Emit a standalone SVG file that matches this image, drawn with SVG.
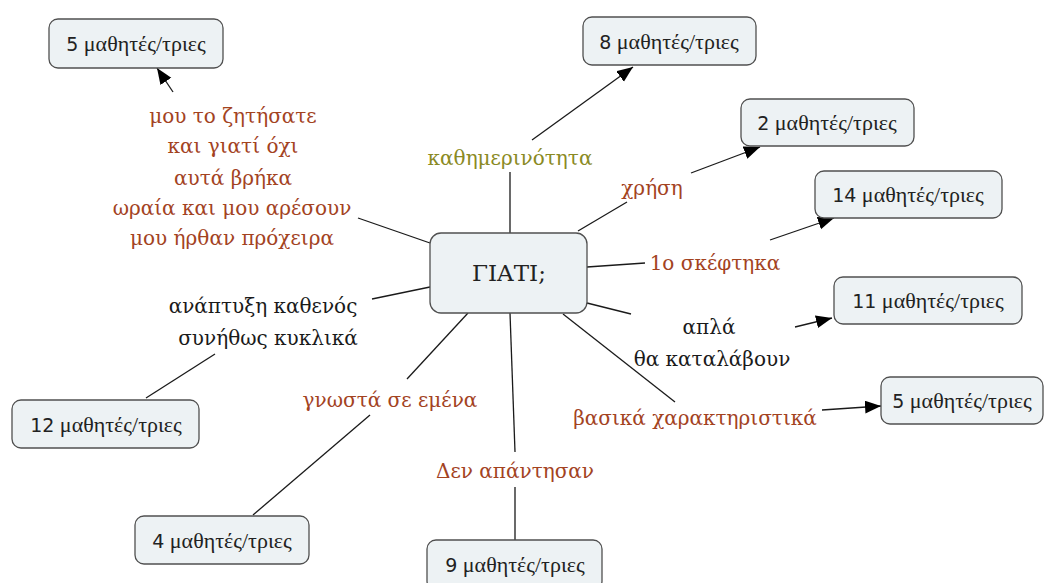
<svg xmlns="http://www.w3.org/2000/svg" width="1045" height="583" viewBox="0 0 1045 583">
  <style>
    .box { fill: #edf2f4; stroke: #505050; stroke-width: 1.3; }
    .lnk { stroke: #1a1a1a; stroke-width: 1.3; fill: none; }
    .arr { marker-end: url(#head); }
    .lbl { font-family: "DejaVu Serif", "Liberation Serif", serif; font-size: 20px; text-anchor: middle; }
    .rust { fill: #a3431f; }
    .olive { fill: #8a8a24; }
    .dark { fill: #1a1a1a; }
    .cnt { font-family: "Liberation Serif", "DejaVu Serif", serif; font-size: 22px; fill: #222; text-anchor: middle; }
    .num { font-family: "DejaVu Sans", sans-serif; font-size: 19px; }
    .root { font-family: "DejaVu Serif", "Liberation Serif", serif; font-size: 23px; fill: #222; text-anchor: middle; }
  </style>
  <defs>
    <marker id="head" markerUnits="userSpaceOnUse" markerWidth="18" markerHeight="14" refX="16" refY="6.5" orient="auto">
      <path d="M0,0 L16,6.5 L0,13 z" fill="#000"/>
    </marker>
  </defs>
  <rect width="1045" height="583" fill="#ffffff"/>

  <!-- connectors -->
  <g id="connectors">
    <!-- hub to link phrases -->
    <line class="lnk" x1="510" y1="233" x2="510" y2="172"/>
    <line class="lnk" x1="578" y1="231" x2="627" y2="202"/>
    <line class="lnk" x1="587" y1="267" x2="645" y2="263"/>
    <line class="lnk" x1="587" y1="303" x2="631" y2="314"/>
    <line class="lnk" x1="563" y1="314" x2="675" y2="402"/>
    <line class="lnk" x1="510" y1="313" x2="515" y2="452"/>
    <line class="lnk" x1="468" y1="313" x2="407" y2="379"/>
    <line class="lnk" x1="430" y1="287" x2="372" y2="299"/>
    <line class="lnk" x1="430" y1="243" x2="358" y2="218"/>
    <!-- link phrases to answer counts -->
    <line class="lnk arr" x1="532" y1="140" x2="633" y2="67"/>
    <line class="lnk arr" x1="691" y1="173" x2="760" y2="147"/>
    <line class="lnk arr" x1="770" y1="240" x2="834" y2="218"/>
    <line class="lnk arr" x1="795" y1="327" x2="832" y2="318"/>
    <line class="lnk arr" x1="822" y1="410" x2="881" y2="406"/>
    <line class="lnk" x1="515" y1="487" x2="515" y2="540"/>
    <line class="lnk" x1="370" y1="415" x2="253" y2="515"/>
    <line class="lnk" x1="215" y1="354" x2="146" y2="398"/>
    <line class="lnk arr" x1="173" y1="92" x2="157" y2="68"/>
  </g>

  <!-- central concept -->
  <g id="hub">
    <rect class="box" x="430" y="233" width="157" height="80" rx="11"/>
    <text class="root" x="509" y="281">ΓΙΑΤΙ;</text>
  </g>

  <!-- link phrases -->
  <g id="lp-kathimerinotita"><text class="lbl olive" x="510" y="165">καθημερινότητα</text></g>
  <g id="lp-xrisi"><text class="lbl rust" x="652" y="195">χρήση</text></g>
  <g id="lp-skeftika"><text class="lbl rust" x="715" y="270">1ο σκέφτηκα</text></g>
  <g id="lp-apla">
    <text class="lbl dark" x="709" y="334">απλά</text>
    <text class="lbl dark" x="712" y="366">θα καταλάβουν</text>
  </g>
  <g id="lp-vasika"><text class="lbl rust" x="695" y="425">βασικά χαρακτηριστικά</text></g>
  <g id="lp-den"><text class="lbl rust" x="515" y="478">Δεν απάντησαν</text></g>
  <g id="lp-gnosta"><text class="lbl rust" x="390" y="407">γνωστά σε εμένα</text></g>
  <g id="lp-anaptyxi">
    <text class="lbl dark" x="263" y="313">ανάπτυξη καθενός</text>
    <text class="lbl dark" x="268" y="345">συνήθως κυκλικά</text>
  </g>
  <g id="lp-zitisate">
    <text class="lbl rust" x="233" y="123">μου το ζητήσατε</text>
    <text class="lbl rust" x="233" y="153">και γιατί όχι</text>
    <text class="lbl rust" x="233" y="185">αυτά βρήκα</text>
    <text class="lbl rust" x="232" y="215">ωραία και μου αρέσουν</text>
    <text class="lbl rust" x="232" y="245">μου ήρθαν πρόχειρα</text>
  </g>

  <!-- answer counts -->
  <g id="n5a">
    <rect class="box" x="49" y="19" width="174" height="49" rx="9"/>
    <text class="cnt" x="136" y="51"><tspan class="num">5</tspan> μαθητές/τριες</text>
  </g>
  <g id="n8">
    <rect class="box" x="583" y="17" width="173" height="48" rx="9"/>
    <text class="cnt" x="669" y="49"><tspan class="num">8</tspan> μαθητές/τριες</text>
  </g>
  <g id="n2">
    <rect class="box" x="741" y="99" width="173" height="47" rx="9"/>
    <text class="cnt" x="827" y="130"><tspan class="num">2</tspan> μαθητές/τριες</text>
  </g>
  <g id="n14">
    <rect class="box" x="815" y="171" width="187" height="47" rx="9"/>
    <text class="cnt" x="908" y="202"><tspan class="num">14</tspan> μαθητές/τριες</text>
  </g>
  <g id="n11">
    <rect class="box" x="834" y="277" width="188" height="47" rx="9"/>
    <text class="cnt" x="928" y="308"><tspan class="num">11</tspan> μαθητές/τριες</text>
  </g>
  <g id="n5b">
    <rect class="box" x="881" y="377" width="162" height="47" rx="9"/>
    <text class="cnt" x="962" y="408"><tspan class="num">5</tspan> μαθητές/τριες</text>
  </g>
  <g id="n9">
    <rect class="box" x="427" y="540" width="175" height="50" rx="9"/>
    <text class="cnt" x="515" y="572"><tspan class="num">9</tspan> μαθητές/τριες</text>
  </g>
  <g id="n4">
    <rect class="box" x="135" y="516" width="174" height="48" rx="9"/>
    <text class="cnt" x="222" y="548"><tspan class="num">4</tspan> μαθητές/τριες</text>
  </g>
  <g id="n12">
    <rect class="box" x="12" y="400" width="187" height="48" rx="9"/>
    <text class="cnt" x="106" y="432"><tspan class="num">12</tspan> μαθητές/τριες</text>
  </g>
</svg>
